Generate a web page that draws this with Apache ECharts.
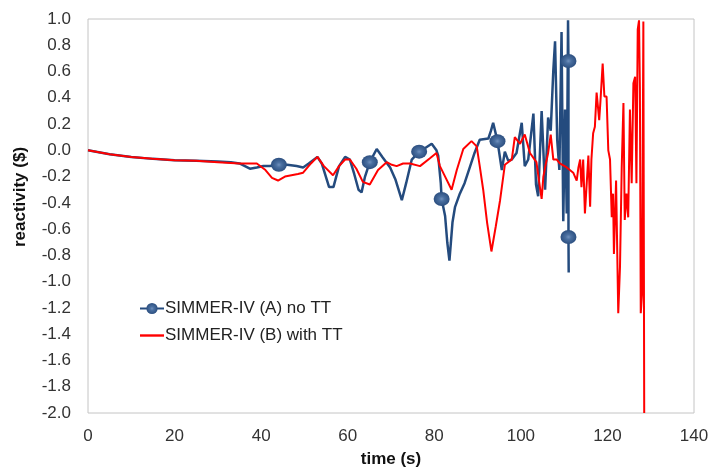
<!DOCTYPE html>
<html>
<head>
<meta charset="utf-8">
<script src="https://cdn.jsdelivr.net/npm/echarts@6/dist/echarts.min.js"></script>
<style>
  html, body { margin: 0; padding: 0; background: #fff; }
  #chart { width: 712px; height: 474px; }
</style>
</head>
<body>
<div id="chart"></div>
<script>
// SIMMER-IV (A) no TT
const timeA = [0, 5, 10, 15, 20, 25, 30, 33, 35, 37.4, 39, 40.5, 42, 44.1, 46, 48.2, 49.7, 51, 53, 54,
  55.7, 56.7, 58, 59.4, 60.5, 61.5, 62.5, 63.2, 64, 65.1, 66.7, 68, 69.8, 71, 72.5, 73.5, 74.8, 76.5,
  78, 79.4, 80.5, 80.9, 81.5, 81.7, 82.5, 83, 83.5, 84.2, 84.8, 85.9, 87, 88.2, 89.3, 90.5, 92.5, 93.1,
  93.6, 94.6, 95.6, 96.3, 97.1, 97.9, 99, 100.2, 100.9, 101.7, 102.9, 103.5, 104, 104.8, 105.6, 106.3,
  106.9, 107.5, 107.9, 108.4, 108.9, 109.4, 109.8, 110.2, 110.6, 110.9, 111.0, 111.0, 111.05];
const reactA = [0, -0.03, -0.05, -0.065, -0.075, -0.08, -0.085, -0.09, -0.10, -0.14, -0.13, -0.12, -0.12, -0.11, -0.11, -0.12, -0.13, -0.10, -0.05, -0.10,
  -0.28, -0.28, -0.12, -0.05, -0.07, -0.18, -0.30, -0.32, -0.20, -0.09, 0.01, -0.05, -0.13, -0.22, -0.38, -0.25, -0.07, -0.01,
  0.02, 0.05, 0.0, -0.04, -0.25, -0.37, -0.50, -0.70, -0.84, -0.55, -0.43, -0.33, -0.25, -0.13, -0.02, 0.08, 0.09, 0.15,
  0.21, 0.07, -0.15, -0.01, -0.08, -0.07, -0.02, 0.21, -0.12, -0.07, 0.28, -0.26, -0.35, 0.30, -0.30, 0.25,
  0.15, 0.61, 0.83, 0.08, -0.15, 0.90, -0.54, 0.31, -0.48, 0.99, 0.68, -0.66, -0.93];
// points of A that carry a marker
const markerIdxA = [13, 29, 37, 43, 57, 82, 83];

// SIMMER-IV (B) with TT
const timeB = [0, 5, 10, 15, 20, 25, 30, 35, 39, 41, 42.5, 43.9, 45.5, 47, 48.5, 49.7, 51.5, 53, 54.5, 56.6,
  58, 59.4, 60.5, 62, 63.5, 65.1, 67, 69, 70.2, 71.3, 72.8, 74.4, 76.7, 79, 80.5, 81.3, 82.5, 84, 85.2,
  86.7, 88.6, 89.8, 90.5, 91.3, 92.2, 93.2, 94.2, 95.2, 96.3, 97.9, 98.6, 99.8, 100.9, 102.1, 103.6, 104.4,
  104.8, 105.2, 105.6, 106.3, 106.9, 107.5, 108.3, 109.0, 110.6, 112.1, 112.9, 113.3, 113.7, 114.0, 114.4,
  114.8, 115.6, 116.0, 116.3, 116.7, 117.1, 117.5, 118.1, 118.4, 118.9, 119.3, 119.8, 120.2, 120.6, 121.0,
  121.3, 121.5, 122.0, 122.5, 122.9, 123.3, 123.7, 124.0, 124.4, 124.8, 125.2, 125.6, 126.0, 126.4, 126.7,
  127.0, 127.3, 127.5, 127.7, 128.0, 128.3, 128.5];
const reactB = [0, -0.03, -0.05, -0.065, -0.075, -0.08, -0.09, -0.10, -0.10, -0.15, -0.21, -0.23, -0.20, -0.19, -0.18, -0.17, -0.10, -0.05, -0.12, -0.19,
  -0.12, -0.07, -0.07, -0.14, -0.24, -0.26, -0.15, -0.09, -0.11, -0.12, -0.10, -0.10, -0.12, -0.06, -0.02, -0.12, -0.20, -0.30, -0.15,
  0.01, 0.07, 0.03, -0.12, -0.30, -0.55, -0.77, -0.58, -0.38, -0.11, -0.07, 0.10, 0.05, 0.12, -0.02, -0.09, -0.28,
  -0.37, -0.20, -0.13, -0.02, 0.12, -0.07, -0.07, -0.10, -0.13, -0.17, -0.23, -0.13, -0.07, -0.28, -0.07,
  -0.48, -0.04, -0.43, -0.07, 0.13, 0.18, 0.44, 0.23, 0.38, 0.66, 0.41, 0.41, 0.00, -0.07, -0.51,
  -0.33, -0.79, -0.23, -1.24, -0.89, -0.13, 0.36, -0.53, -0.33, -0.51, 0.31, -0.25, 0.51, 0.56, -0.25,
  0.92, 0.99, 0.48, -1.24, -1.09, 0.98, -2.0];

const xTicks = [0, 20, 40, 60, 80, 100, 120, 140];
const yTicks = [-2.0, -1.8, -1.6, -1.4, -1.2, -1.0, -0.8, -0.6, -0.4, -0.2, 0.0, 0.2, 0.4, 0.6, 0.8, 1.0];

const font = 'Liberation Sans, Arial, sans-serif';
const markerColor = {
  type: 'radial', x: 0.5, y: 0.5, r: 0.5,
  colorStops: [{ offset: 0, color: '#6f90bd' }, { offset: 0.35, color: '#4a6fa0' }, { offset: 1, color: '#2c4f80' }]
};

const dataA = timeA.map((t, i) => {
  const item = { value: [t, reactA[i]] };
  if (markerIdxA.indexOf(i) < 0) item.symbol = 'none';
  return item;
});
const dataB = timeB.map((t, i) => [t, reactB[i]]);

const chart = echarts.init(document.getElementById('chart'));
chart.setOption({
  animation: false,
  textStyle: { fontFamily: font },
  grid: {
    left: 88, right: 18, top: 19, bottom: 61,
    show: true, borderColor: '#c4c4c4', borderWidth: 1
  },
  legend: {
    orient: 'vertical',
    left: 134,
    top: 295,
    itemWidth: 24,
    itemHeight: 14,
    itemGap: 10,
    textStyle: { fontSize: 17, color: '#222', fontFamily: font, padding: [0, 0, 0, -4] },
    data: [
      { name: 'SIMMER-IV (A) no TT' },
      { name: 'SIMMER-IV (B) with TT', icon: 'path://M0 0H24V2.4H0Z' }
    ]
  },
  xAxis: {
    type: 'value',
    min: xTicks[0],
    max: xTicks[xTicks.length - 1],
    interval: 20,
    name: 'time (s)',
    nameLocation: 'middle',
    nameGap: 38,
    nameTextStyle: { fontSize: 17, fontWeight: 'bold', color: '#111', fontFamily: font },
    axisLine: { show: false },
    axisTick: { show: false },
    splitLine: { show: false },
    axisLabel: { fontSize: 17, color: '#333', margin: 15, fontFamily: font }
  },
  yAxis: {
    type: 'value',
    min: yTicks[0],
    max: yTicks[yTicks.length - 1],
    interval: 0.2,
    axisLine: { show: false },
    axisTick: { show: false },
    splitLine: { show: false },
    axisLabel: {
      fontSize: 17, color: '#333', margin: 17, fontFamily: font,
      formatter: v => v.toFixed(1)
    }
  },
  graphic: [{
    type: 'text',
    x: 20,
    y: 197,
    rotation: Math.PI / 2,
    style: {
      text: 'reactivity ($)',
      font: 'bold 17px ' + font,
      fill: '#111',
      align: 'center',
      verticalAlign: 'middle'
    }
  }],
  series: [{
    name: 'SIMMER-IV (A) no TT',
    type: 'line',
    data: dataA,
    showSymbol: true,
    showAllSymbol: true,
    symbol: 'circle',
    symbolSize: [16, 14],
    itemStyle: { color: markerColor },
    lineStyle: { color: '#244b7e', width: 2.5 },
    z: 2
  }, {
    name: 'SIMMER-IV (B) with TT',
    type: 'line',
    data: dataB,
    showSymbol: false,
    symbol: 'none',
    itemStyle: { color: '#ff0000' },
    lineStyle: { color: '#ff0000', width: 2 },
    z: 3
  }]
});
</script>
</body>
</html>
